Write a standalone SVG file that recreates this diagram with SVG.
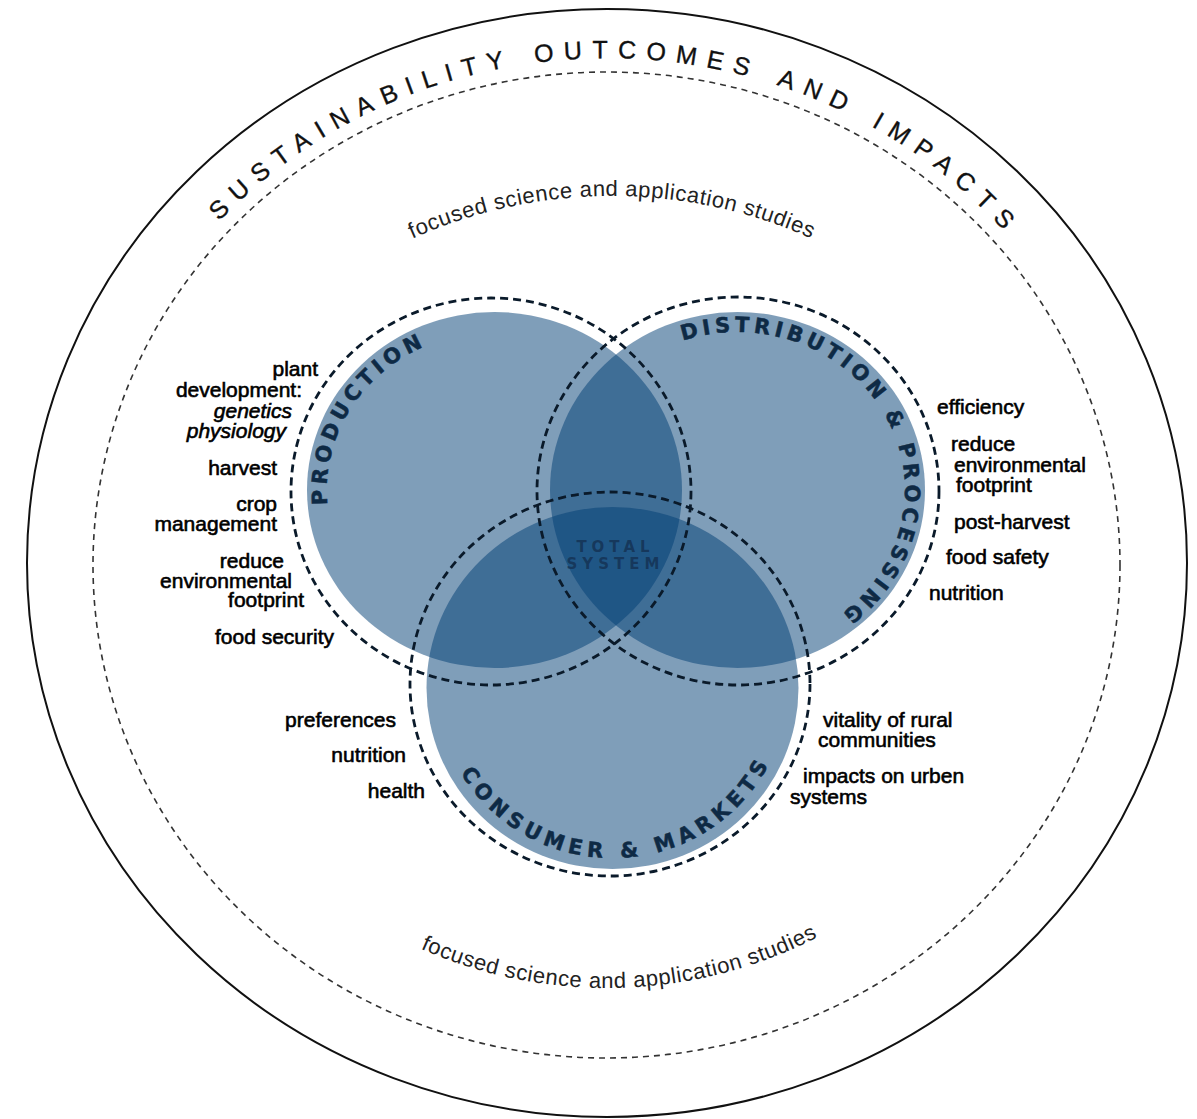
<svg xmlns="http://www.w3.org/2000/svg" xmlns:xlink="http://www.w3.org/1999/xlink" width="1197" height="1119" viewBox="0 0 1197 1119">
  <style>
    .ring { fill: none; stroke: #111; stroke-width: 2; }
    .study { fill: none; stroke: #333; stroke-width: 1.6; stroke-dasharray: 6 5; }
    .title { font-family: "Liberation Sans", Arial, sans-serif; font-size: 25px; fill: #111; stroke: #111; stroke-width: 0.35; letter-spacing: 10px; word-spacing: 4px; }
    .studytext { font-family: "Liberation Sans", Arial, sans-serif; font-size: 22px; fill: #222; letter-spacing: 0.6px; }
    .disc { fill: #003d73; fill-opacity: 0.5; }
    .halo { fill: none; stroke: #0a1a2a; stroke-width: 2.8; stroke-dasharray: 8 5; }
    .domain { font-family: "DejaVu Sans", Verdana, sans-serif; font-weight: bold; font-size: 21px; fill: #0e2a45; stroke: #0e2a45; stroke-width: 0.5; }
    .core { font-family: "DejaVu Sans", Verdana, sans-serif; font-weight: bold; font-size: 15px; fill: #16375a; fill-opacity: 0.95; letter-spacing: 5px; text-anchor: middle; }
    .lbl { font-family: "Liberation Sans", Arial, sans-serif; font-size: 21px; fill: #000; stroke: #000; stroke-width: 0.6; }
    .end { text-anchor: end; }
    .it { font-style: italic; }
  </style>
  <defs>
    <path id="titleArc" d="M 80 563 A 527 505 0 0 1 1134 563"/>
    <path id="studyTopArc" d="M 143 645 A 469 449 0 0 1 1081 645"/>
    <path id="studyBottomArc" d="M 163 563 A 444 425 0 0 0 1051 563"/>
    <path id="prodArc" d="M 387.7 611.7 A 167.5 158 0 0 1 550.7 341.1"/>
    <path id="distArc" d="M 633.9 365.8 A 167.5 158 0 1 1 789.8 640.1"/>
    <path id="consArc" d="M 441.5 724.2 A 175 170 0 0 0 785.9 710.8"/>
  </defs>

  <rect width="1197" height="1119" fill="#fff"/>

  <!-- outer boundary with the title running along its top -->
  <g id="outcomes-ring">
    <ellipse class="ring" cx="607" cy="563" rx="580" ry="554"/>
    <text class="title"><textPath xlink:href="#titleArc" href="#titleArc" startOffset="50.7%" text-anchor="middle">SUSTAINABILITY OUTCOMES AND IMPACTS</textPath></text>
  </g>

  <!-- dashed band of focused studies -->
  <g id="studies-ring">
    <ellipse class="study" cx="606.5" cy="565" rx="513.5" ry="493"/>
    <text class="studytext"><textPath xlink:href="#studyTopArc" href="#studyTopArc" startOffset="50%" text-anchor="middle">focused science and application studies</textPath></text>
    <text class="studytext"><textPath xlink:href="#studyBottomArc" href="#studyBottomArc" startOffset="51%" text-anchor="middle">focused science and application studies</textPath></text>
  </g>

  <!-- translucent discs; overlaps darken toward the centre -->
  <g id="discs">
    <ellipse class="disc" cx="494.5" cy="490" rx="187.5" ry="178"/>
    <ellipse class="disc" cx="737.5" cy="490" rx="187.5" ry="178"/>
    <ellipse class="disc" cx="612.5" cy="688" rx="186" ry="181"/>
  </g>

  <g id="production">
    <ellipse class="halo" cx="491" cy="491.5" rx="200" ry="193.5"/>
    <text class="domain" letter-spacing="4.5"><textPath xlink:href="#prodArc" href="#prodArc" startOffset="50%" text-anchor="middle">PRODUCTION</textPath></text>
  </g>

  <g id="distribution">
    <ellipse class="halo" cx="738" cy="491" rx="201" ry="194"/>
    <text class="domain" letter-spacing="4.2"><textPath xlink:href="#distArc" href="#distArc" startOffset="50%" text-anchor="middle">DISTRIBUTION &amp; PROCESSING</textPath></text>
  </g>

  <g id="consumer">
    <ellipse class="halo" cx="610" cy="684" rx="200" ry="192"/>
    <text class="domain" letter-spacing="5.4"><textPath xlink:href="#consArc" href="#consArc" startOffset="50%" text-anchor="middle">CONSUMER &amp; MARKETS</textPath></text>
  </g>

  <g id="total-system">
    <text class="core" x="615.5" y="552">TOTAL</text>
    <text class="core" x="615.5" y="569">SYSTEM</text>
  </g>

  <g id="production-topics" class="lbl end">
    <text x="318" y="376">plant</text>
    <text x="302" y="397">development:</text>
    <text class="it" x="292" y="418">genetics</text>
    <text class="it" x="286" y="438">physiology</text>
    <text x="277" y="475">harvest</text>
    <text x="277" y="511">crop</text>
    <text x="277" y="531">management</text>
    <text x="284" y="568">reduce</text>
    <text x="292" y="588">environmental</text>
    <text x="304" y="607">footprint</text>
    <text x="334" y="644">food security</text>
  </g>

  <g id="distribution-topics" class="lbl">
    <text x="937" y="414">efficiency</text>
    <text x="951" y="451">reduce</text>
    <text x="954" y="472">environmental</text>
    <text x="956" y="492">footprint</text>
    <text x="954" y="529">post-harvest</text>
    <text x="946" y="564">food safety</text>
    <text x="929" y="600">nutrition</text>
  </g>

  <g id="consumer-topics-left" class="lbl end">
    <text x="396" y="727">preferences</text>
    <text x="406" y="762">nutrition</text>
    <text x="425" y="798">health</text>
  </g>

  <g id="consumer-topics-right" class="lbl">
    <text x="823" y="727">vitality of rural</text>
    <text x="818" y="747">communities</text>
    <text x="803" y="783">impacts on urben</text>
    <text x="790" y="804">systems</text>
  </g>
</svg>
